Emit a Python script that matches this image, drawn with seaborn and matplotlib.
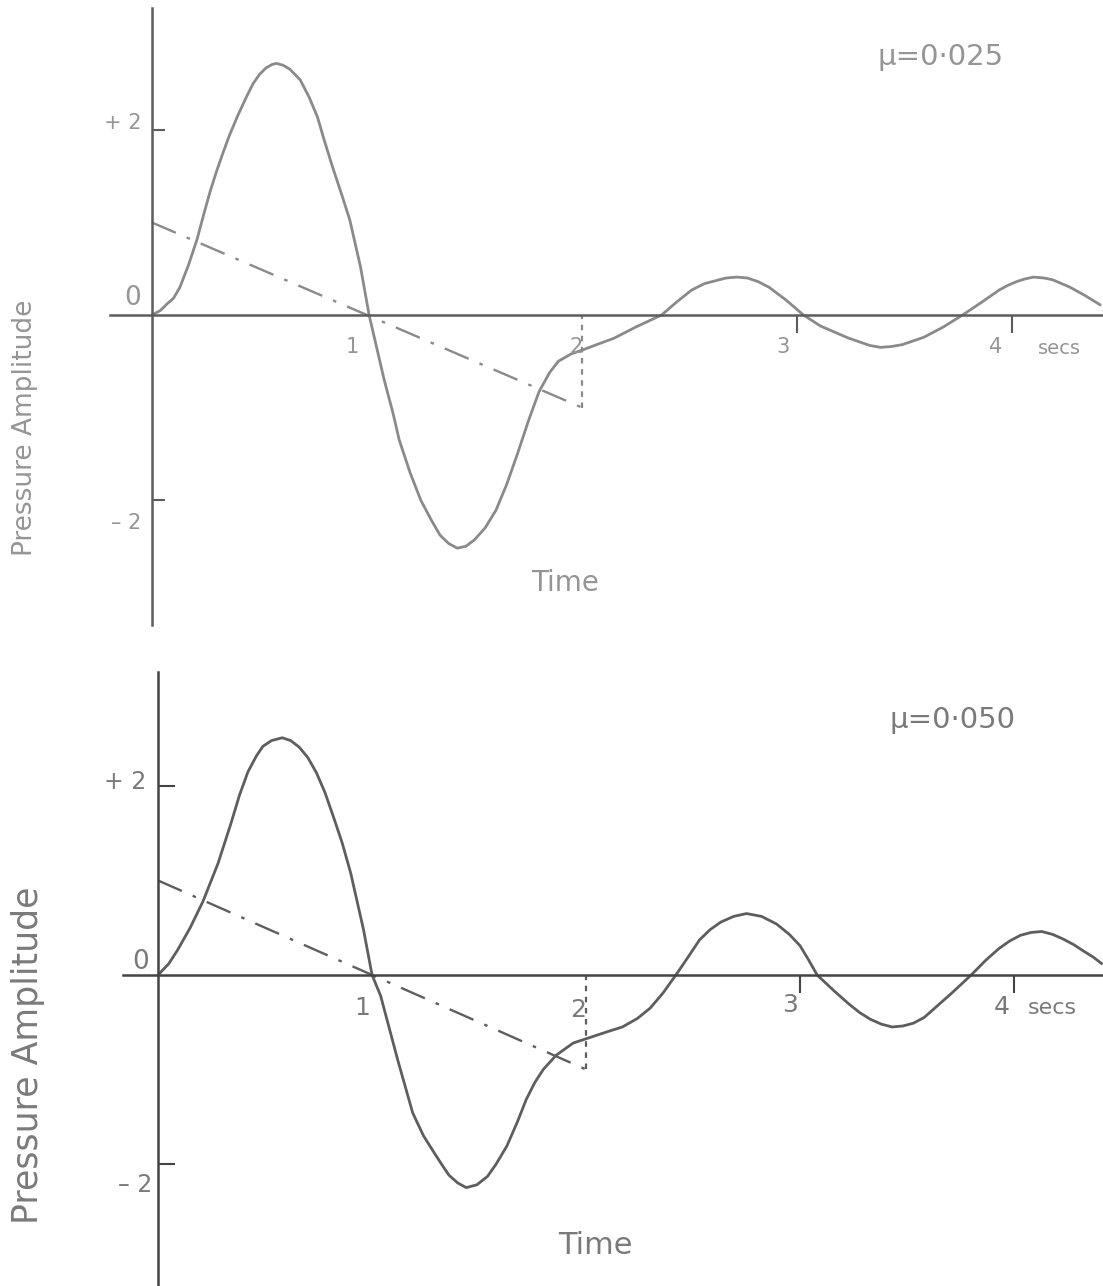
import matplotlib
matplotlib.use("Agg")
import matplotlib.pyplot as plt
import seaborn as sns
import pandas as pd

# ---------------- data ----------------
# mu = 0.025 panel
t_top = [0, 0.04, 0.07, 0.10, 0.13, 0.17, 0.21, 0.24, 0.27, 0.30, 0.33, 0.36,
         0.40, 0.44, 0.47, 0.50, 0.53, 0.56, 0.58, 0.61, 0.64, 0.67, 0.69, 0.73,
         0.77, 0.80, 0.84, 0.88, 0.92, 0.97, 1.01, 1.05, 1.08, 1.12, 1.15, 1.20,
         1.25, 1.30, 1.34, 1.38, 1.42, 1.46, 1.50, 1.55, 1.60, 1.65, 1.70, 1.75,
         1.80, 1.85, 1.89, 1.95, 2.00, 2.08, 2.15, 2.25, 2.37, 2.44, 2.51, 2.57,
         2.62, 2.67, 2.72, 2.77, 2.82, 2.87, 2.95, 3.03, 3.11, 3.19, 3.24, 3.29,
         3.34, 3.39, 3.44, 3.49, 3.59, 3.68, 3.77, 3.86, 3.94, 3.98, 4.02, 4.06,
         4.10, 4.15, 4.19, 4.23, 4.27, 4.34, 4.41]
p_top = [0, 0.05, 0.12, 0.18, 0.30, 0.54, 0.82, 1.08, 1.33, 1.55, 1.75, 1.94,
         2.16, 2.36, 2.50, 2.60, 2.67, 2.71, 2.72, 2.70, 2.66, 2.59, 2.54, 2.36,
         2.14, 1.90, 1.60, 1.32, 1.03, 0.52, 0.0, -0.40, -0.70, -1.05, -1.35, -1.70,
         -2.00, -2.22, -2.38, -2.47, -2.52, -2.50, -2.43, -2.30, -2.11, -1.83, -1.50, -1.15,
         -0.83, -0.62, -0.50, -0.42, -0.38, -0.31, -0.25, -0.13, 0.0, 0.14, 0.27, 0.34,
         0.37, 0.40, 0.41, 0.40, 0.36, 0.30, 0.16, 0.0, -0.12, -0.20, -0.25, -0.29,
         -0.33, -0.35, -0.34, -0.32, -0.24, -0.13, 0.0, 0.14, 0.27, 0.32, 0.36, 0.39,
         0.41, 0.40, 0.38, 0.34, 0.30, 0.21, 0.11]

# mu = 0.050 panel
t_bot = [0, 0.05, 0.09, 0.15, 0.21, 0.28, 0.34, 0.38, 0.42, 0.46, 0.49, 0.53,
         0.58, 0.62, 0.66, 0.70, 0.74, 0.78, 0.82, 0.86, 0.90, 0.96, 1.00, 1.04,
         1.08, 1.12, 1.16, 1.19, 1.24, 1.29, 1.33, 1.36, 1.40, 1.44, 1.49, 1.54,
         1.58, 1.63, 1.68, 1.72, 1.76, 1.80, 1.86, 1.94, 2.02, 2.10, 2.17, 2.24,
         2.30, 2.36, 2.42, 2.48, 2.53, 2.58, 2.63, 2.69, 2.75, 2.82, 2.89, 2.95,
         3.00, 3.04, 3.08, 3.16, 3.23, 3.28, 3.33, 3.38, 3.43, 3.48, 3.53, 3.58,
         3.62, 3.71, 3.80, 3.87, 3.93, 3.98, 4.03, 4.08, 4.13, 4.18, 4.23, 4.28,
         4.32, 4.37, 4.41]
p_bot = [0, 0.12, 0.26, 0.50, 0.78, 1.18, 1.60, 1.90, 2.15, 2.32, 2.42, 2.48,
         2.51, 2.48, 2.41, 2.30, 2.14, 1.93, 1.67, 1.40, 1.08, 0.48, 0.0, -0.22,
         -0.56, -0.90, -1.22, -1.46, -1.70, -1.88, -2.02, -2.12, -2.20, -2.25, -2.22, -2.13,
         -2.00, -1.81, -1.55, -1.32, -1.14, -1.00, -0.85, -0.72, -0.66, -0.60, -0.55, -0.46,
         -0.35, -0.19, 0.0, 0.20, 0.37, 0.48, 0.56, 0.62, 0.65, 0.62, 0.54, 0.43,
         0.31, 0.16, 0.0, -0.17, -0.31, -0.40, -0.47, -0.52, -0.55, -0.54, -0.51, -0.45,
         -0.37, -0.19, 0.0, 0.16, 0.28, 0.36, 0.42, 0.45, 0.46, 0.43, 0.38, 0.32,
         0.26, 0.19, 0.12]

# input pulse (dash-dot) : linear fall from +1 to -1 over 2 s, then back to 0
pulse_t = [0, 2]
pulse_p = [1, -1]
drop_t = [2, 2]
drop_p = [-1, 0]

mu_labels = ["\u03bc=0\u00b7025", "\u03bc=0\u00b7050"]
xtick_vals = [1, 2, 3, 4]
xtick_text = ["1", "2", "3", "4"]
ytick_vals = [2, -2]
ytick_text = ["+ 2", "\u2013 2"]

# ---------------- style ----------------
sns.set_style("white")
plt.rcParams["font.family"] = ["DejaVu Sans"]

W, H = 1103, 1286
fig = plt.figure(figsize=(W / 100, H / 100), dpi=100)


def rect(l, t, r, b):
    return [l / W, 1 - b / H, (r - l) / W, (b - t) / H]


def ftxt(x, y, s, **kw):
    fig.text(x / W, 1 - y / H, s, **kw)


panels = [
    dict(t=t_top, p=p_top, rect=rect(110, 8, 1103, 625),
         xlim=(-0.195, 4.423), ylim=(-3.351, 3.319),
         curve="#8a8a8a", axis="#5c5c5c", text="#959595", ytl=9.5),
    dict(t=t_bot, p=p_bot, rect=rect(123, 672, 1103, 1286),
         xlim=(-0.164, 4.416), ylim=(-3.291, 3.206),
         curve="#5e5e5e", axis="#444444", text="#7a7a7a", ytl=12),
]

for pn in panels:
    ax = fig.add_axes(pn["rect"])
    ax.set_facecolor("none")
    df = pd.DataFrame({"t": pn["t"], "p": pn["p"]})
    sns.lineplot(data=df, x="t", y="p", ax=ax, sort=False, estimator=None,
                 color=pn["curve"], linewidth=2.0, solid_joinstyle="round")
    sns.lineplot(x=pulse_t, y=pulse_p, ax=ax, sort=False, estimator=None,
                 color=pn["curve"], linewidth=1.7,
                 linestyle=(0, (11, 5, 1.5, 5)))
    sns.lineplot(x=drop_t, y=drop_p, ax=ax, sort=False, estimator=None,
                 color=pn["curve"], linewidth=1.6, linestyle=(0, (2.5, 2.5)))
    ax.set_xlim(*pn["xlim"])
    ax.set_ylim(*pn["ylim"])
    for s in ["top", "right"]:
        ax.spines[s].set_visible(False)
    ax.spines["left"].set_position(("data", 0))
    ax.spines["bottom"].set_position(("data", 0))
    for s in ["left", "bottom"]:
        ax.spines[s].set_color(pn["axis"])
        ax.spines[s].set_linewidth(1.8)
    ax.set_xticks([3, 4])
    ax.set_xticklabels([])
    ax.set_yticks(ytick_vals)
    ax.set_yticklabels([])
    ax.tick_params(axis="x", which="major", bottom=True, direction="out",
                   length=13, width=1.5, color=pn["axis"])
    ax.tick_params(axis="y", which="major", left=True, direction="in",
                   length=pn["ytl"], width=1.5, color=pn["axis"])
    ax.set_xlabel("")
    ax.set_ylabel("")

# ---------------- text (top panel) ----------------
c = panels[0]["text"]
ftxt(141, 123, ytick_text[0], ha="right", va="center", fontsize=15, color=c)
ftxt(141, 523, ytick_text[1], ha="right", va="center", fontsize=15, color=c)
ftxt(133, 298, "0", ha="center", va="center", fontsize=19, color=c)
for xp, s in zip([352, 576, 783, 996], xtick_text):
    ftxt(xp, 347, s, ha="center", va="center", fontsize=15, color=c)
ftxt(1038, 348, "secs", ha="left", va="center", fontsize=14, color=c)
ftxt(877, 57, mu_labels[0], ha="left", va="center", fontsize=21, color=c)
ftxt(565, 583, "Time", ha="center", va="center", fontsize=20, color=c)
ftxt(25, 428, "Pressure Amplitude", ha="center", va="center", rotation=90,
     fontsize=19, color=c)

# ---------------- text (bottom panel) ----------------
c = panels[1]["text"]
ftxt(146, 782, ytick_text[0], ha="right", va="center", fontsize=17, color=c)
ftxt(152, 1185, ytick_text[1], ha="right", va="center", fontsize=17, color=c)
ftxt(141, 962, "0", ha="center", va="center", fontsize=19, color=c)
for xp, yp, s in zip([362, 578, 790, 1002], [1008, 1010, 1005, 1007], xtick_text):
    ftxt(xp, yp, s, ha="center", va="center", fontsize=18, color=c)
ftxt(1028, 1008, "secs", ha="left", va="center", fontsize=16, color=c)
ftxt(890, 720, mu_labels[1], ha="left", va="center", fontsize=21, color=c)
ftxt(595, 1245, "Time", ha="center", va="center", fontsize=22, color=c)
ftxt(28, 1055, "Pressure Amplitude", ha="center", va="center", rotation=90,
     fontsize=25, color=c)

fig.savefig("out.png", dpi=100)
